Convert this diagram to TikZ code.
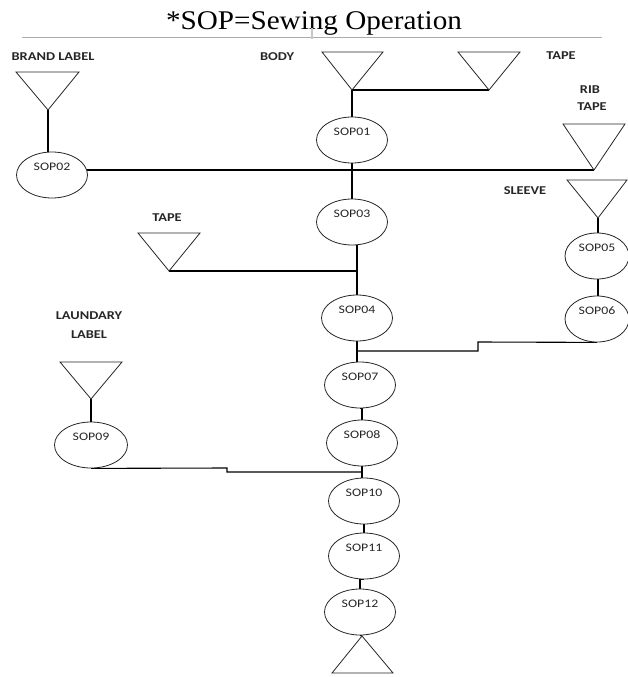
\documentclass[tikz,border=0pt]{standalone}
\usepackage{fontspec}
\setmainfont{Liberation Serif}
\newfontfamily\calib{Carlito}
\usetikzlibrary{shapes.geometric,backgrounds}
\newcommand{\sx}[1]{\scalebox{1.2}[1]{#1}}
\tikzset{
  sop/.style={ellipse, draw=black!85, line width=0.8pt, fill=white, minimum width=71pt, minimum height=46pt, inner sep=0pt, font=\calib\fontsize{11.5}{11.5}\selectfont, text=black!85},
  lbl/.style={font=\calib\bfseries\fontsize{12}{12}\selectfont, text=black!85, inner sep=0pt},
  conn/.style={line width=1.1pt, black},
  tri/.style={line width=0.8pt, black!85}
}
\newcommand{\soptxt}[1]{\raisebox{4.5pt}[0pt][0pt]{\sx{#1}}}
\begin{document}
\begin{tikzpicture}[x=1pt,y=-1pt]
\useasboundingbox (0,0) rectangle (627,677);
% title
\node[inner sep=0pt, anchor=base, font=\fontsize{27}{27}\selectfont] (title) at (314,30) {\scalebox{1.08}[1]{*SOP=Sewing Operation}};
\draw[line width=0.6pt, color={rgb,255:red,190;green,165;blue,165}] (22,37) -- (602,37);
\draw[line width=1.2pt, black!22] (312,28) -- (312,39);
% labels
\node[lbl] (lbrand) at (53,57) {\sx{BRAND LABEL}};
\node[lbl] (lbody) at (277,57) {\sx{BODY}};
\node[lbl] (ltape1) at (561,56) {\sx{TAPE}};
\node[lbl] (lrib) at (590,90) {\sx{RIB}};
\node[lbl] (lrib2) at (592,107) {\sx{TAPE}};
\node[lbl] (lsleeve) at (525,191) {\sx{SLEEVE}};
\node[lbl] (ltape2) at (167,218) {\sx{TAPE}};
\node[lbl] (llaund) at (89,316) {\sx{LAUNDARY}};
\node[lbl] (llaund2) at (89,335) {\sx{LABEL}};
% apex coordinates
\coordinate (brandapex) at (48,110);
\coordinate (bodyapex) at (352,90);
\coordinate (tapeapex) at (489,90);
\coordinate (ribapex) at (594,170);
\coordinate (sleeveapex) at (598,218);
\coordinate (tape2apex) at (169,271);
\coordinate (laundapex) at (91,399);
\coordinate (endapex) at (362,636);
% SOP nodes
\node[sop] (s01) at (352,140) {\soptxt{SOP01}};
\node[sop] (s02) at (52,175) {\soptxt{SOP02}};
\node[sop] (s03) at (352,222) {\soptxt{SOP03}};
\node[sop] (s04) at (357,318) {\soptxt{SOP04}};
\node[sop, minimum width=64pt] (s05) at (597,256) {\soptxt{SOP05}};
\node[sop, minimum width=64pt] (s06) at (597,319) {\soptxt{SOP06}};
\node[sop] (s07) at (360,385) {\soptxt{SOP07}};
\node[sop] (s08) at (362,443) {\soptxt{SOP08}};
\node[sop, minimum width=73pt] (s09) at (91,445) {\soptxt{SOP09}};
\node[sop] (s10) at (364,501) {\soptxt{SOP10}};
\node[sop] (s11) at (364,556) {\soptxt{SOP11}};
\node[sop] (s12) at (360,612) {\soptxt{SOP12}};
% triangles
\draw[tri] (brandapex) -- ++(-32,-38) -- ++(63,0) -- cycle;
\draw[tri] (bodyapex) -- ++(-30,-38) -- ++(61,0) -- cycle;
\draw[tri] (tapeapex) -- ++(-31,-38) -- ++(62,0) -- cycle;
\draw[tri] (ribapex) -- ++(-31,-46) -- ++(62,0) -- cycle;
\draw[tri] (sleeveapex) -- ++(-31,-38) -- ++(60,0) -- cycle;
\draw[tri] (tape2apex) -- ++(-31,-38) -- ++(62,0) -- cycle;
\draw[tri] (laundapex) -- ++(-31,-37) -- ++(62,0) -- cycle;
\draw[tri] (endapex) -- ++(-30,37) -- ++(61,0) -- cycle;
% junction coordinates
\coordinate (j2) at (357,271);
\coordinate (j6a) at (478,342);
\coordinate (j6b) at (478,351);
\coordinate (j6c) at (357,351);
\coordinate (j9a) at (227,468);
\coordinate (j9b) at (227,472);
\coordinate (j9c) at (362,472);
\begin{scope}[on background layer]
\draw[conn] (brandapex) -- (s02.north -| brandapex);
\draw[conn] (bodyapex) -- (s01.north);
\draw[conn] (bodyapex) -- (tapeapex);
\draw[conn] (s02.center |- ribapex) -- (ribapex);
\draw[conn] (s01.south) -- (s03.north);
\draw[conn] (tape2apex) -- (j2);
\draw[conn] (s04.north) -- (s04.north |- s03.south);
\draw[conn] (sleeveapex) -- (s05.north -| sleeveapex);
\draw[conn] (s05.south -| sleeveapex) -- (s06.north -| sleeveapex);
\draw[conn] (s06.south) -- (j6a) -- (j6b) -- (j6c);
\draw[conn] (s04.south) -- (s04.south |- s07.north);
\draw[conn] (s07.south) -- (s07.south -| s08.north);
\draw[conn] (s07.south -| s08.north) -- (s08.north);
\draw[conn] (laundapex) -- (s09.north);
\draw[conn] (s09.south) -- (j9a) -- (j9b) -- (j9c);
\draw[conn] (s08.south) -- (s08.south |- s10.north);
\draw[conn] (s10.south) -- (s11.north);
\draw[conn] (s11.south) -- (s11.south -| s12.north);
\draw[conn] (s11.south -| s12.north) -- (s12.north);
\draw[conn] (s12.south) -- (endapex);
\end{scope}
\end{tikzpicture}
\end{document}
